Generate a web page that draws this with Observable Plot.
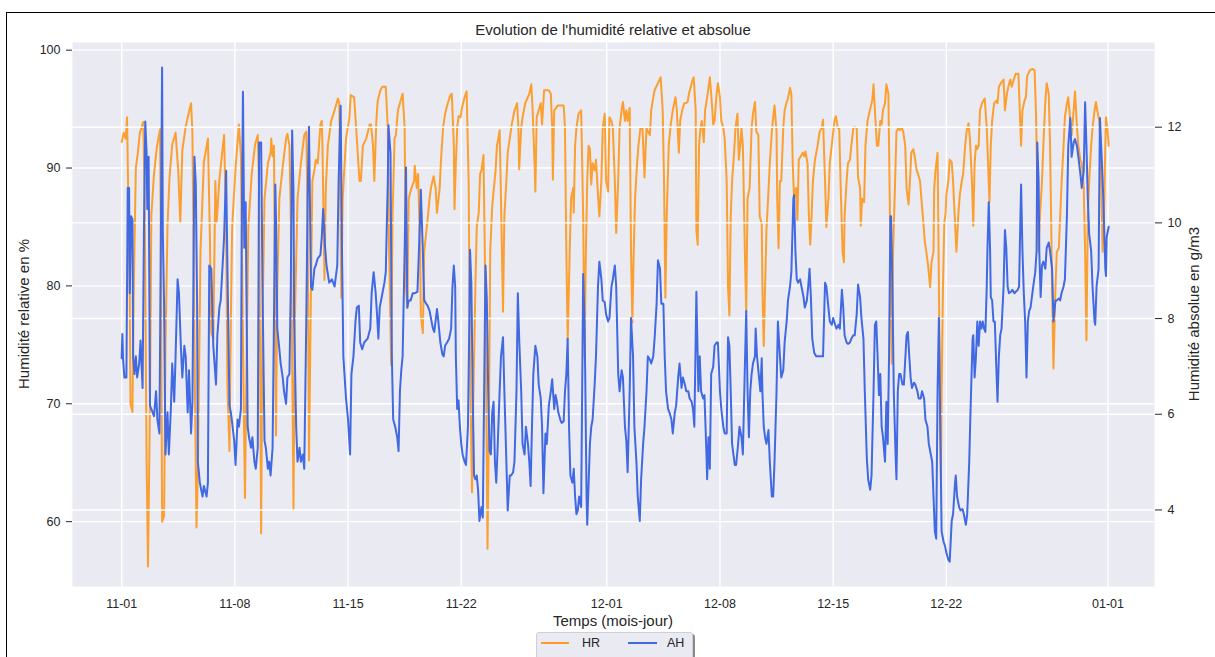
<!DOCTYPE html>
<html><head><meta charset="utf-8">
<script src="https://cdn.jsdelivr.net/npm/d3@7"></script>
<script src="https://cdn.jsdelivr.net/npm/@observablehq/plot@0.6"></script>
<style>
body{margin:0;background:#fff;font-family:"Liberation Sans",Arial,sans-serif;color:#262626}
#root{position:relative;width:1215px;height:657px;overflow:hidden;background:#fff}
.abs{position:absolute}
</style></head><body>
<div id="root">
  <div class="abs" style="left:6px;top:12px;width:1400px;height:900px;border:1px solid #000"></div>
  <div id="c1" class="abs" style="left:0;top:0"></div>
  <div id="c2" class="abs" style="left:0;top:0"></div>
  <div class="abs" id="title" style="left:72px;width:1082px;top:21px;text-align:center;font-size:15px;line-height:18px">Evolution de l'humidité relative et absolue</div>
  <div class="abs" id="xlabel" style="left:72px;width:1082px;top:612px;text-align:center;font-size:15px;line-height:18px">Temps (mois-jour)</div>
  <div class="abs" id="ylabelL" style="left:24px;top:314px;transform:translate(-50%,-50%) rotate(-90deg);white-space:nowrap;font-size:15px;line-height:18px">Humidité relative en %</div>
  <div class="abs" id="ylabelR" style="left:1194px;top:314px;transform:translate(-50%,-50%) rotate(-90deg);white-space:nowrap;font-size:15px;line-height:18px">Humidité absolue en g/m3</div>
  <div class="abs" id="legend" style="left:536px;top:632px;width:155px;height:34px;background:#EAEAF2;border:1px solid #cfcfd6;border-radius:3px;box-shadow:2px 2px 0 #8a8a8a"></div>
  <div class="abs" style="left:541px;top:642px;width:28px;height:0;border-top:2px solid rgba(255,140,0,0.85)"></div>
  <div class="abs" id="legHR" style="left:582px;top:635px;font-size:12.5px;line-height:16px">HR</div>
  <div class="abs" style="left:628px;top:642px;width:29px;height:0;border-top:2px solid #4169E1"></div>
  <div class="abs" id="legAH" style="left:667px;top:635px;font-size:12.5px;line-height:16px">AH</div>
</div>
<script>
// hours since 2022-11-01 00:00, value
const START = Date.UTC(2022, 10, 1);
const xTickLabels = ["2022-11-01","2022-11-08","2022-11-15","2022-11-22","2022-12-01","2022-12-08","2022-12-15","2022-12-22","2023-01-01"];
const hrTicks = [60, 70, 80, 90, 100];
const ahTicks = [4, 6, 8, 10, 12];

const hrSeries = [
[0,92.2],[3,93.0],[6,92.5],[8,94.3],[12,79.0],[13,70.0],[16,69.3],[18,80],[21,90],[24,91.3],[27,93],[32,93.9],[34,88],[37,65],[39,56.2],[42,70],[44,86],[48,89.5],[52,91.7],[57,93.3],[58,85],[60,60],[63,60.5],[65,75],[68,85],[71,89.2],[75,92],[80,93],[84,89.7],[87,85.4],[90,91.5],[95,93.5],[100,94.8],[103,95.5],[105,93],[108,75],[111,59.5],[113,64],[117,83],[122,90.5],[128,92.5],[131,84],[133,76],[136,75.5],[139,88.9],[141,85.4],[145,89],[150,91.8],[152,92.8],[155,85],[157,71.5],[160,66],[162,77],[164,85],[169,90],[174,93.7],[177,91],[180,75],[183,62],[185,72],[188,85],[193,89.5],[198,92],[202,92.8],[204,88],[207,59],
[209,76.9],[212,87.4],[217,90.4],[221,91.3],[222,92.5],[224,91],[226,91.9],[229,67.3],[231,79.9],[234,87.4],[239,90.1],[244,92.5],[246,92.9],[249,91.9],[251,85.9],[254,67.9],[255,61],[257,76.9],[261,87.4],[266,90.4],[271,92.8],[274,93.1],[276,85.9],[278,65.2],[281,79.9],[283,88.9],[286,89.8],[288,90.7],[291,90.4],[295,93.7],[297,94],[298,91.9],[301,80.5],[303,88.3],[306,91.9],[311,94],[316,94.9],[321,95.9],[323,95.5],[326,79],[328,87.4],[333,92.5],[338,94.3],[340,96.2],[345,96],[348,93.4],[353,88.9],[355,88.9],[358,91.9],[363,92.5],[368,93.7],[370,93.7],[373,91.9],[375,88.9],[378,94],[380,95.7],[384,96.6],[387,96.9],[392,96.9],[395,93.4],[397,82.9],[400,73.3],[402,85.9],[405,92.5],[407,92.8],[410,94.9],[414,95.7],[417,96.3],[420,93.4],[422,79.9],[424,78.1],[426,87.4],[430,88.3],[434,88.9],[435,90.2],[438,88.3],[440,89.5],[443,82.9],
[444,77.5],[447,76],[449,82.9],[454,85.6],[457,87.4],[459,88.3],[463,89.3],[466,88.3],[468,86.2],[472,88.3],[474,90.7],[477,93.4],[480,94.6],[484,95.5],[488,96.2],[490,96.3],[493,91.9],[494,86.5],[496,90.4],[498,93.4],[500,94.4],[503,94.3],[505,95.1],[509,96],[512,96.5],[515,88.9],[517,73.9],[520,62.5],[522,70.9],[525,79.9],[527,85],[530,86.2],[532,89.5],[534,89.8],[537,91.1],[539,82.9],[542,64.9],[543,57.7],[545,67.9],[547,82.9],[550,86.8],[552,88],[555,89.8],[557,91.9],[559,92.5],[561,93.2],[563,87.4],[566,77.8],[568,85.9],[571,88.9],[573,91.3],[576,92.5],[579,93.7],[583,94.9],[587,95.5],[589,93.1],[590,89.9],[593,93.4],[595,94.3],[599,95.5],[602,95.9],[605,96.3],[608,97.1],[610,94.9],[613,90.1],[614,88],[616,94.3],[619,94.9],[622,95.5],[624,93.7],[627,96.6],[630,96.6],[634,96.6],[637,96.3],[639,93.4],[640,89],[642,94.9],[645,95.1],[647,95.3],[652,95.3],[656,95.3],[658,93.4],[660,82.9],[662,75.4],[665,82.9],[667,87.4],[670,88.3],[671,86.2],[673,91.9],[675,93.4],[678,94.6],
[682,94.9],[685,85.9],[687,73.9],[689,82.9],[691,88.9],[693,91.9],[695,91.6],[697,88.6],[699,90.4],[702,89.8],[704,90.7],[707,87.7],[709,85.9],[712,88.9],[714,93.4],[717,94.6],[719,88.9],[722,88],[724,94.3],[727,94],[729,93.4],[732,88.9],[734,84.5],[737,88.9],[739,93.4],[742,94.9],[744,95.6],[747,94],[749,94.9],[751,94],[754,95.1],[756,82.9],[758,76.9],[760,82.9],[762,87.4],[765,90.4],[767,91.9],[770,93.4],[773,93.4],[776,89.2],[779,93.4],[781,93.1],[784,92.8],[786,94.9],[789,96],[791,96.6],[796,97.2],[800,97.7],[803,94.9],[805,88.9],[807,79],[809,85.9],[812,91.9],[815,93.7],[818,94.9],[822,96],[824,94.9],[827,91.3],[829,94],[832,94.9],[835,95.5],[837,95.5],[840,95.6],[842,96.3],[846,97.2],[849,97.7],[852,94.9],[853,84.7],[855,83.5],[857,91.9],[859,93.4],[861,94],[864,92.2],[866,94.9],[869,96],[873,97.7],[875,96.3],[878,93.7],[880,94],[883,96.3],[885,97.2],[888,96],[890,94],[893,93.4],[895,92.5],[898,88.9],[900,79.9],[902,77.5],[904,85.9],[906,88.9],[909,91.3],[911,93.4],[914,94.6],[916,90.7],[918,91.9],
[920,93.4],[922,91.9],[925,82.9],[927,77.8],[929,87.4],[932,88.3],[935,93.4],[937,94.6],[940,95.6],[942,93.1],[945,92.8],[947,85.9],[950,85.3],[951,79.9],[953,74.9],[955,79.9],[957,84.7],[960,88],[962,90.4],[965,93.1],[967,94.3],[969,95.3],[972,93.1],[973,87.4],[975,83.2],[977,88.9],[979,88.9],[982,93.4],[984,94.9],[987,95.6],[989,95.9],[992,96.8],[994,96.3],[996,90.4],[998,87.4],[1001,88.3],[1003,85.6],[1005,90.7],[1008,91],[1011,91.3],[1013,91],[1015,91.4],[1018,90.4],[1020,85.9],[1022,83.5],[1024,85.9],[1026,88.9],[1029,90.7],[1033,91.9],[1036,93.1],[1039,93.4],[1041,94.1],[1044,88.9],[1046,85],[1049,87.4],[1051,90.4],[1055,92.5],[1058,94],[1060,94.4],[1063,93.4],[1065,93.4],[1067,88.9],[1070,82.9],[1072,82],[1073,85.9],[1076,88.9],[1078,90.4],[1081,90.7],[1083,91.9],[1086,93.4],[1088,93.5],[1091,93.4],[1093,89.2],[1096,88.3],[1097,85.1],[1099,87.4],[1102,87.1],[1104,91.9],[1107,94],[1111,95],[1114,95.7],[1116,97.1],[1118,94.9],[1121,91.9],[1123,91.9],[1126,94],[1128,93.7],[1130,94.9],[1133,95.5],[1135,97.1],[1138,96.3],[1139,91.9],[1141,82.9],[1143,73.4],[1145,82.9],[1148,88.9],[1150,93.1],[1153,93.4],[1155,93.2],
[1158,93.4],[1160,93.1],[1163,91.9],[1165,88.3],[1168,86.9],[1170,88.9],[1172,91.3],[1175,91.6],[1177,91],[1180,89.8],[1182,89.5],[1185,88.9],[1187,87.4],[1190,85.3],[1192,83.8],[1195,82.6],[1197,81.7],[1200,79.9],[1202,82],[1205,82.9],[1206,88.3],[1208,89.8],[1211,91.3],[1212,85.9],[1214,73.9],[1216,63.7],[1217,70.9],[1219,79.9],[1221,85.3],[1223,86.2],[1224,87.7],[1227,88.9],[1229,90.7],[1232,90.5],[1234,88.9],[1237,85.3],[1239,82.9],[1242,86.2],[1244,87.7],[1247,88.9],[1249,89.5],[1252,91.9],[1254,93.1],[1257,93.8],[1259,92.5],[1262,88.9],[1264,85.1],[1266,90.4],[1268,91.9],[1270,91.6],[1272,91.9],[1274,94.9],[1277,95.5],[1279,95.7],[1281,95.9],[1284,93.4],[1286,90.4],[1288,87.1],[1290,91.9],[1292,94],[1295,95.5],[1298,95.7],[1300,95.5],[1302,96.9],[1305,97.2],[1309,97.5],[1311,94.9],[1314,96.3],[1316,96.9],[1319,97.5],[1321,96.9],[1324,97.5],[1327,98],[1331,98],[1333,94.9],[1335,91.9],[1337,94.9],[1340,95.7],[1342,96],[1344,97.8],[1348,98.3],[1352,98.4],[1355,98.3],[1357,94.9],[1359,88.9],[1361,82.9],[1363,85.9],[1366,88.9],[1368,91.9],[1371,95.7],[1373,97.2],[1376,96.3],[1378,91.9],[1381,79.9],
[1383,73],[1386,79.9],[1388,82.9],[1391,83.2],[1393,85.9],[1395,88.6],[1398,91.9],[1400,94.3],[1403,95.5],[1405,96],[1408,94],[1410,92.8],[1413,94.9],[1415,96.5],[1418,93.4],[1420,91.9],[1423,90.7],[1425,90.4],[1428,88.3],[1430,82.9],[1432,75.4],[1434,85.9],[1436,88.9],[1439,91.9],[1441,93.4],[1444,94.9],[1446,95.6],[1448,94.9],[1451,94],[1453,91.9],[1455,85.9],[1456,82.9],[1458,85.9],[1460,91.9],[1461,94.3],[1463,93.4],[1465,91.9]
];

const ahSeries = [
[0,7.17],[1,7.68],[2,7.17],[4,6.77],[7,6.77],[9,10.73],[11,10.73],[12,8.53],[14,10.14],[16,10.07],[17,7.21],[19,6.84],[21,7.21],[23,6.77],[26,7.06],[28,7.54],[31,6.55],[33,9.77],[35,12.12],[37,11.46],[38,10.29],[40,11.38],[42,6.18],[46,6.04],[48,5.96],[51,6.48],[53,5.89],[56,5.6],[58,9.41],[60,13.25],[61,9.85],[63,8.23],[65,5.16],[68,6.04],[70,5.16],[73,6.11],[75,7.06],[78,6.26],[80,7.21],[83,8.82],[85,8.53],[88,7.36],[90,6.77],[93,7.43],[95,7.21],[98,6.04],[100,6.92],[103,5.6],[105,6.26],[108,11.38],[110,10.8],[112,8.23],[113,5.01],[116,4.57],[120,4.28],[122,4.5],[126,4.28],[128,4.57],[130,9.11],[133,9.04],[136,7.43],[140,6.62],[142,7.65],[145,8.23],[147,8.38],[152,9.7],[155,11.09],[157,9.04],[160,6.18],[162,6.04],[164,5.82],[167,5.45],[169,4.94],[172,5.89],[174,5.74],[177,6.11],[178,9.41],[180,12.74],[182,9.48],[184,10.43],[187,5.74],[189,5.52],[192,5.3],[194,5.52],[197,5.01],[199,4.86],[202,5.3],[204,11.68],
[207,11.68],[209,8.67],[212,5.45],[214,5.3],[217,4.86],[219,5.01],[221,4.72],[224,5.3],[226,7.94],[228,10.8],[229,10.14],[231,7.79],[234,7.36],[236,7.06],[239,6.77],[241,6.48],[244,6.22],[246,6.77],[249,6.84],[251,8.67],[253,11.93],[255,10.65],[256,7.94],[259,5.74],[261,5.01],[264,5.3],[266,5.01],[269,5.16],[271,4.86],[274,7.94],[276,10.51],[278,12.01],[281,8.67],[283,8.6],[286,9.04],[288,9.11],[291,9.26],[295,9.33],[297,9.7],[299,10.29],[302,9.48],[304,9.11],[308,8.75],[312,8.82],[316,8.67],[320,9.11],[322,10.87],[325,12.45],[327,9.41],[329,7.21],[333,6.33],[336,5.89],[339,5.16],[341,6.84],[344,7.21],[347,7.94],[349,8.23],[352,8.27],[354,7.5],[357,7.36],[360,7.5],[365,7.58],[369,7.79],[371,8.53],[374,8.97],[377,8.53],[379,8.09],[381,7.58],[383,8.23],[386,8.45],[390,8.75],[392,8.97],[395,10.87],[396,12.04],[399,11.46],[401,7.21],[403,5.89],[406,5.74],[409,5.52],[411,5.23],[413,6.48],[415,6.92],[417,7.21],[420,9.41],[422,11.16],[424,8.23],[426,8.38],[429,8.38],[432,8.53],[435,8.53],[439,8.56],[443,10.14],
[444,10.69],[447,9.41],[449,8.38],[452,8.31],[454,8.27],[457,8.16],[459,8.01],[462,7.79],[464,7.72],[468,8.2],[470,7.94],[473,7.5],[476,7.25],[478,7.21],[480,7.43],[483,7.5],[486,7.58],[489,7.79],[491,8.67],[493,9.11],[495,8.67],[496,7.21],[498,6.11],[500,6.29],[502,5.74],[504,5.38],[506,5.16],[509,5.01],[511,4.94],[514,5.74],[516,7.94],[517,9.44],[519,8.75],[521,6.48],[523,4.72],[525,4.64],[527,4.72],[529,4.42],[531,3.77],[534,4.06],[536,3.84],[538,6.48],[540,9.11],[542,8.38],[544,6.48],[546,5.23],[548,5.16],[550,6.04],[552,6.26],[554,5.01],[556,4.57],[558,5.3],[561,6.48],[563,7.21],[566,7.61],[568,6.48],[571,5.01],[573,3.99],[576,4.72],[578,4.72],[581,4.79],[583,5.01],[586,6.48],[588,8.53],[590,7.58],[593,6.48],[595,5.38],[598,5.16],[600,5.74],[603,5.38],[605,5.01],[607,4.5],[609,5.74],[611,6.84],[614,7.43],[617,7.21],[619,6.62],[622,6.33],[624,5.74],[626,4.35],[629,5.6],[631,5.38],[634,6.18],[637,6.48],[639,6.73],[642,6.11],[644,6.4],[646,6.26],[648,6.04],[651,5.89],[653,5.82],[656,5.85],[658,6.48],[660,6.84],[662,7.58],[664,5.74],[666,4.72],[669,4.57],[671,4.86],[673,4.28],[675,3.91],[677,3.99],[679,4.28],[682,4.06],[685,8.93],[687,7.94],[688,6.84],[690,4.28],[691,3.69],
[695,5.38],[697,5.74],[699,5.89],[702,6.62],[704,7.21],[707,8.67],[709,9.19],[712,8.82],[714,8.38],[717,8.34],[719,8.09],[722,7.94],[724,8.01],[727,8.67],[729,8.82],[732,9.11],[734,8.67],[737,6.84],[739,6.48],[742,6.92],[744,6.77],[747,5.74],[749,5.45],[751,4.79],[754,6.48],[756,8.01],[759,7.21],[761,5.74],[764,5.01],[766,4.28],[769,3.77],[771,4.64],[774,5.38],[776,5.74],[779,6.48],[781,7.21],[784,7.14],[786,7.06],[789,7.21],[791,7.58],[794,8.31],[796,9.22],[799,9.04],[801,8.31],[804,8.31],[806,7.21],[808,6.48],[811,6.11],[813,6.04],[816,5.89],[818,5.6],[821,6.04],[823,6.18],[826,6.77],[828,7.06],[831,6.55],[833,6.77],[836,6.62],[838,6.48],[841,6.48],[843,6.33],[846,6.26],[848,6.11],[850,5.74],[852,7.58],[853,8.56],[856,6.48],[858,7.21],[860,6.48],[863,6.33],[865,6.4],[868,5.16],[869,4.64],[871,5.52],[873,4.86],[875,6.84],[878,6.99],[880,7.43],[883,7.5],[885,7.5],[888,6.48],[890,6.11],[893,5.74],[895,5.6],[898,5.6],[900,7.61],[902,7.43],[904,6.48],[906,5.38],[908,5.16],[910,4.94],[912,4.94],[915,5.38],[917,5.74],[920,5.52],[922,5.16],
[925,7.0],[927,8.16],[929,6.48],[931,5.52],[933,6.48],[935,6.84],[937,7.06],[940,7.21],[941,7.79],[943,7.21],[946,6.77],[948,6.48],[950,7.17],[951,6.48],[953,5.74],[955,5.52],[957,5.38],[960,5.67],[962,5.01],[965,4.28],[967,4.28],[969,5.01],[972,6.48],[974,7.94],[977,7.21],[979,6.77],[982,6.92],[984,7.5],[987,7.94],[989,8.38],[992,8.67],[994,8.97],[997,10.51],[998,10.58],[1000,9.41],[1002,8.82],[1004,8.75],[1007,8.82],[1009,8.67],[1012,8.45],[1014,8.23],[1017,8.38],[1019,8.67],[1021,9.04],[1023,8.45],[1025,7.58],[1028,7.28],[1031,7.21],[1035,7.21],[1041,7.21],[1044,8.75],[1046,8.67],[1049,8.23],[1051,7.94],[1054,7.87],[1056,8.01],[1059,7.87],[1061,7.79],[1064,7.87],[1066,7.79],[1069,8.6],[1071,8.23],[1073,7.65],[1076,7.5],[1078,7.47],[1081,7.5],[1083,7.58],[1086,7.65],[1088,7.65],[1091,8.09],[1093,8.71],[1096,8.45],[1098,8.01],[1101,7.58],[1103,6.48],[1106,5.08],[1108,4.64],[1111,4.42],[1113,4.72],[1116,6.48],[1118,7.87],[1120,7.94],[1122,7.21],[1124,6.4],[1126,6.84],[1128,5.74],[1130,5.52],[1133,5.01],[1135,6.26],[1137,5.38],[1139,7.21],[1141,10.14],[1142,10.14],[1144,8.67],[1146,6.48],[1149,5.01],[1150,4.64],[1152,6.48],[1154,6.84],[1156,6.84],[1159,6.62],[1161,6.62],
[1165,7.65],[1167,7.72],[1169,7.21],[1171,6.77],[1173,6.55],[1176,6.66],[1178,6.62],[1181,6.48],[1183,6.33],[1186,6.33],[1188,6.48],[1191,6.33],[1193,5.89],[1196,5.74],[1198,5.38],[1201,5.16],[1203,5.01],[1205,4.28],[1207,3.55],[1209,3.4],[1211,6.48],[1213,8.01],[1215,5.74],[1217,3.55],[1220,3.33],[1222,3.25],[1224,3.11],[1227,2.96],[1229,2.92],[1232,3.77],[1234,3.91],[1237,4.57],[1238,4.72],[1240,4.28],[1243,4.06],[1245,3.99],[1248,4.02],[1250,3.91],[1253,3.69],[1255,3.91],[1258,5.01],[1260,6.11],[1263,7.58],[1264,7.65],[1266,6.77],[1268,7.21],[1270,7.94],[1272,7.43],[1274,7.94],[1276,7.79],[1278,7.94],[1280,7.79],[1282,7.72],[1284,8.67],[1285,9.41],[1287,10.43],[1289,9.41],[1290,8.45],[1292,8.38],[1294,7.94],[1296,7.94],[1298,7.06],[1300,6.26],[1302,7.21],[1304,7.65],[1306,7.79],[1309,8.67],[1311,9.85],[1313,9.48],[1315,8.67],[1317,8.53],[1320,8.56],[1322,8.6],[1325,8.53],[1327,8.56],[1330,8.6],[1332,8.67],[1333,9.41],[1335,10.8],[1337,9.41],[1339,8.53],[1341,7.94],[1343,6.77],[1345,7.94],[1347,8.16],[1349,8.23],[1351,8.45],[1353,8.67],[1356,8.97],[1358,9.41],[1359,11.68],[1361,10.87],[1362,9.41],[1364,8.45],[1366,9.11],[1368,9.19],[1371,9.04],[1373,9.48],[1376,9.59],[1378,9.41],[1381,9.04],
[1383,7.94],[1386,8.38],[1388,8.38],[1391,8.42],[1393,8.38],[1395,8.53],[1398,8.67],[1400,8.82],[1403,10.14],[1405,11.6],[1408,12.19],[1410,11.38],[1413,11.68],[1415,11.75],[1418,11.6],[1420,11.38],[1423,11.02],[1425,10.73],[1428,11.09],[1430,12.52],[1432,11.6],[1434,10.51],[1436,9.77],[1439,9.41],[1441,8.67],[1444,7.94],[1445,7.87],[1447,8.67],[1450,9.04],[1452,12.19],[1455,11.24],[1457,10.51],[1460,9.04],[1461,8.89],[1462,9.7],[1465,9.92]
];

const toDate = h => new Date(START + h * 3600e3);
const hr = hrSeries.map(([h, v]) => ({date: toDate(h), value: v}));
const ah = ahSeries.map(([h, v]) => ({date: toDate(h), value: v}));
const xTicks = xTickLabels.map(s => new Date(s + "T00:00:00Z"));
const xDomain = [toDate(-73), toDate(1533)];
const fmt = d3.utcFormat("%m-%d");

const common = {
  width: 1215, height: 620,
  marginTop: 42, marginBottom: 34, marginLeft: 72, marginRight: 61,
  style: {background: "transparent", fontFamily: "'Liberation Sans', Arial, sans-serif", fontSize: "12.5px", color: "#262626", overflow: "visible"}
};

const p1 = Plot.plot({
  ...common,
  x: {type: "utc", domain: xDomain, axis: null},
  y: {domain: [54.5, 100.65], axis: null},
  marks: [
    Plot.frame({fill: "#EAEAF2", stroke: "none"}),
    Plot.gridX(xTicks, {stroke: "#fff", strokeOpacity: 1, strokeWidth: 1.4}),
    Plot.gridY(hrTicks, {stroke: "#fff", strokeOpacity: 1, strokeWidth: 1.4}),
    Plot.line(hr, {x: "date", y: "value", stroke: "#FF8C00", strokeOpacity: 0.8, strokeWidth: 2}),
    Plot.axisX(xTicks, {tickSize: 0, tickPadding: 13, tickFormat: fmt, label: null}),
    Plot.axisY(hrTicks, {tickSize: 6, tickPadding: 6, label: null})
  ]
});
document.getElementById("c1").appendChild(p1);

const p2 = Plot.plot({
  ...common,
  x: {type: "utc", domain: xDomain, axis: null},
  y: {domain: [2.4, 13.77], axis: null},
  marks: [
    Plot.gridY(ahTicks, {stroke: "#fff", strokeOpacity: 1, strokeWidth: 1.4}),
    Plot.line(ah, {x: "date", y: "value", stroke: "#4169E1", strokeWidth: 2}),
    Plot.axisY(ahTicks, {anchor: "right", tickSize: 7, tickPadding: 6, label: null})
  ]
});
document.getElementById("c2").appendChild(p2);
</script>
</body></html>
